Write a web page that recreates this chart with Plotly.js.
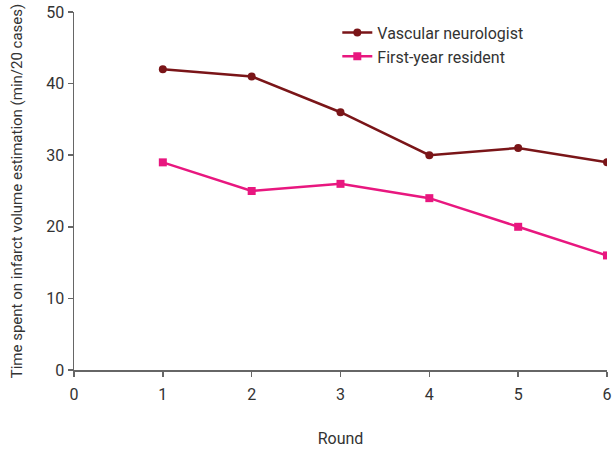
<!DOCTYPE html>
<html>
<head>
<meta charset="utf-8">
<script src="https://cdn.plot.ly/plotly-3.0.1.min.js"></script>
<style>html,body{margin:0;padding:0;background:#fff;}#chart{width:616px;height:452px;}</style>
</head>
<body>
<div id="chart"></div>
<script>
const rounds = [1, 2, 3, 4, 5, 6];
const neurologist = [42, 41, 36, 30, 31, 29];
const resident = [29, 25, 26, 24, 20, 16];
const seriesNames = ["Vascular neurologist", "First-year resident"];
const xTicks = [0, 1, 2, 3, 4, 5, 6];
const yTicks = [0, 10, 20, 30, 40, 50];

const fontFam = "Roboto, 'Noto Sans', sans-serif";
const traces = [
  {x: rounds, y: neurologist, name: seriesNames[0], type: "scatter", mode: "lines+markers",
   line: {color: "#7a1518", width: 2.5}, marker: {symbol: "circle", size: 8, color: "#7a1518"}},
  {x: rounds, y: resident, name: seriesNames[1], type: "scatter", mode: "lines+markers",
   line: {color: "#e8177f", width: 2.5}, marker: {symbol: "square", size: 8, color: "#e8177f"}}
];
const axisCommon = {showgrid: false, zeroline: false, showline: true, linecolor: "#666", linewidth: 1.5,
  ticks: "outside", ticklen: 5, tickcolor: "#666", tickwidth: 1.5,
  tickfont: {family: fontFam, size: 16, color: "#333"}};
const layout = {
  width: 616, height: 452,
  margin: {l: 74, r: 9, t: 12, b: 82},
  paper_bgcolor: "#fff", plot_bgcolor: "#fff",
  font: {family: fontFam, color: "#333"},
  showlegend: true,
  legend: {x: 0.494, y: 0.99, xanchor: "left", yanchor: "top", font: {family: fontFam, size: 16, color: "#333"}, bgcolor: "rgba(0,0,0,0)"},
  xaxis: Object.assign({}, axisCommon, {range: [0, 6], tickvals: xTicks, ticktext: xTicks.map(String),
    ticklabelstandoff: 4,
    title: {text: "Round", font: {family: fontFam, size: 16, color: "#333"}, standoff: 30}}),
  yaxis: Object.assign({}, axisCommon, {range: [0, 50], tickvals: yTicks, ticktext: yTicks.map(String),
    title: {text: "Time spent on infarct volume estimation (min/20 cases)", font: {family: fontFam, size: 15, color: "#333"}, standoff: 20}})
};
Plotly.newPlot("chart", traces, layout, {displayModeBar: false, staticPlot: true});
</script>
</body>
</html>
